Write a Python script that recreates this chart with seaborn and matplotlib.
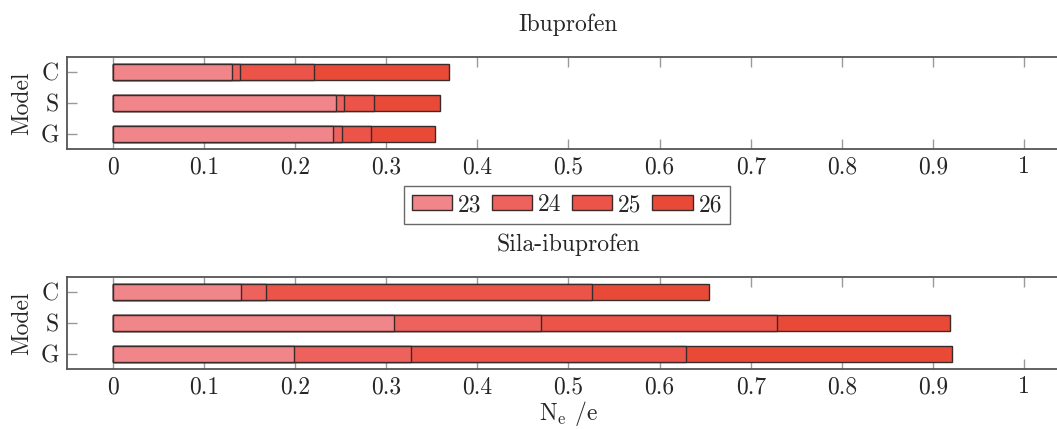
import numpy as np
import pandas as pd
import matplotlib
matplotlib.use("Agg")
import matplotlib.pyplot as plt
import seaborn as sns
from matplotlib.patches import Patch

# ---- data ----
models = ["C", "S", "G"]
layers = ["23", "24", "25", "26"]
# segment contributions (N_e / e) per layer, order C, S, G
ibu_23 = [0.131, 0.245, 0.242]
ibu_24 = [0.008, 0.009, 0.009]
ibu_25 = [0.082, 0.033, 0.032]
ibu_26 = [0.148, 0.072, 0.070]
sila_23 = [0.141, 0.309, 0.199]
sila_24 = [0.027, 0.161, 0.128]
sila_25 = [0.358, 0.259, 0.302]
sila_26 = [0.128, 0.190, 0.292]
xticks = [0, 0.1, 0.2, 0.3, 0.4, 0.5, 0.6, 0.7, 0.8, 0.9, 1.0]
xticklabels = ["0", "0.1", "0.2", "0.3", "0.4", "0.5", "0.6", "0.7", "0.8", "0.9", "1"]
colors = ["#F0868A", "#EE625D", "#EC5449", "#E94A38"]

sns.set_theme(style="white")
plt.rcParams["font.family"] = ["cmr10", "DejaVu Serif"]
plt.rcParams["mathtext.fontset"] = "cm"
plt.rcParams["axes.formatter.use_mathtext"] = True
plt.rcParams["axes.unicode_minus"] = False

fig = plt.figure(figsize=(10.57, 4.29), dpi=100)
W, H = 1057, 429
x0_px, x1_px = 113, 1024  # pixel positions of 0 and 1
xmin, xmax = -0.05, 1.05
left_px = x0_px + xmin * (x1_px - x0_px)
right_px = x0_px + xmax * (x1_px - x0_px)

def make_ax(top_px, bot_px):
    return fig.add_axes([left_px / W, 1 - bot_px / H, (right_px - left_px) / W, (bot_px - top_px) / H])

ax1 = make_ax(57, 149)
ax2 = make_ax(277, 369)

FS = 17

def draw(ax, segs, title):
    cum = np.cumsum(np.array(segs), axis=0)
    for i in range(len(layers) - 1, -1, -1):
        df = pd.DataFrame({"model": models, "val": cum[i]})
        sns.barplot(data=df, y="model", x="val", order=models, orient="h",
                    color=colors[i], saturation=1, width=0.52,
                    edgecolor="#3a2a2a", linewidth=1.0, ax=ax)
    ax.set_xlim(xmin, xmax)
    ax.set_ylim(2.5, -0.5)
    ax.set_xticks(xticks)
    ax.set_xticklabels(xticklabels, fontsize=FS)
    ax.set_yticks(range(len(models)))
    ax.set_yticklabels(models, fontsize=FS)
    ax.tick_params(axis="x", direction="in", length=7, width=1, color="#9a9a9a",
                   top=True, bottom=True, pad=5)
    ax.tick_params(axis="y", direction="in", length=7, width=1, color="#9a9a9a",
                   left=True, right=True, pad=6)
    for s in ax.spines.values():
        s.set_color("#555555")
        s.set_linewidth(1.3)
    ax.set_ylabel("Model", fontsize=FS, labelpad=5)
    ax.set_xlabel("")
    ax.set_title(title, fontsize=FS, pad=19)

draw(ax1, [ibu_23, ibu_24, ibu_25, ibu_26], "Ibuprofen")
draw(ax2, [sila_23, sila_24, sila_25, sila_26], "Sila-ibuprofen")
ax2.set_xlabel(r"N$_\mathrm{e}$ /e", fontsize=FS, labelpad=1)

handles = [Patch(facecolor=c, edgecolor="#3a2a2a", linewidth=1.0) for c in colors]
fig.legend(handles, layers, loc="center", bbox_to_anchor=(567 / W, 1 - 205 / H),
           ncol=4, fontsize=FS, frameon=True, edgecolor="#444444", fancybox=False,
           handlelength=1.7, handleheight=0.6, handletextpad=0.25, columnspacing=0.45,
           borderpad=0.35)

fig.savefig("out.png", dpi=100)
